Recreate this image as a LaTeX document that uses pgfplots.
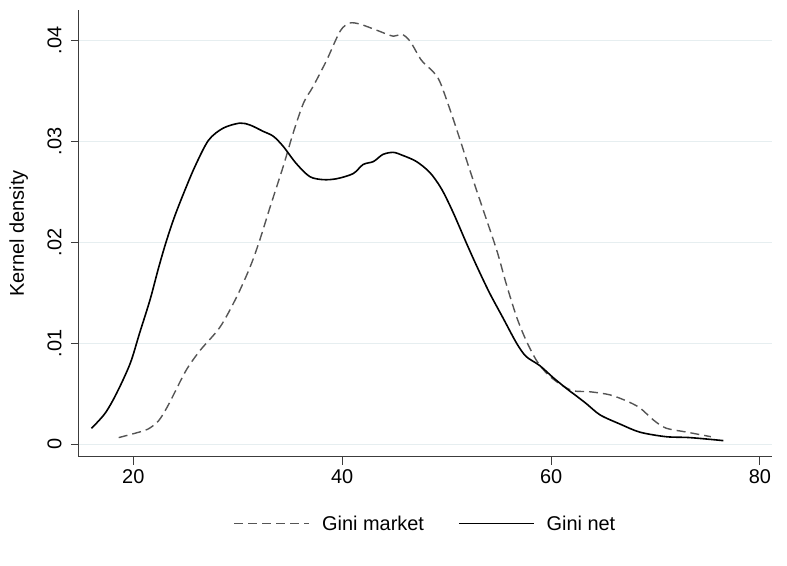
\documentclass[border=0pt]{standalone}
\usepackage{pgfplots}
\pgfplotsset{compat=1.18}
\usepackage{fontspec}
\setmainfont{Liberation Sans}
\definecolor{gridc}{RGB}{230,238,240}
\definecolor{mkt}{RGB}{85,85,85}
\definecolor{axc}{RGB}{60,60,60}
\begin{document}
\begin{tikzpicture}[x=1bp,y=1bp]
\begin{axis}[
  name=ax,
  scale only axis,
  width=693bp, height=447bp,
  xmin=14.8, xmax=81.15,
  ymin=-0.00126, ymax=0.0430,
  axis x line*=bottom, axis y line*=left,
  axis line style={axc, line width=1bp, -},
  xtick={20,40,60,80},
  ytick={0,0.01,0.02,0.03,0.04},
  yticklabels={0,.01,.02,.03,.04},
  scaled y ticks=false,
  tick align=outside,
  major tick length=8bp,
  tick style={axc, line width=1bp},
  ymajorgrids,
  grid style={gridc, line width=1.2bp},
  /pgf/number format/assume math mode=true,
  ticklabel style={font=\fontsize{20}{24}\selectfont, black},
  xticklabel style={yshift=-1bp},
  yticklabel style={rotate=90, anchor=south, yshift=6bp},
  ylabel={Kernel density},
  ylabel style={font=\fontsize{20}{24}\selectfont, at={(axis description cs:-0.087,0.5)}, anchor=center},
  legend style={at={(0.5,-0.122)}, anchor=north, draw=none, fill=none,
    font=\fontsize{20}{24}\selectfont, legend columns=2,
    /tikz/every odd column/.append style={column sep=10bp},
    /tikz/every even column/.append style={column sep=32bp}},
  legend image code/.code={\draw[#1] (0bp,0bp) -- (75bp,0bp);},
  legend cell align=left,
]
\addplot[mkt, line width=1.4bp, dash pattern=on 9bp off 5bp, smooth, tension=0.5] coordinates {
(18.6,0.00066) (20.2,0.0011) (21.4,0.0015) (22.4,0.0023) (23.2,0.0036)
(24.0,0.0052) (25.1,0.0074) (26.4,0.0093) (28.3,0.0116) (29.9,0.0146) (31.2,0.0176)
(32.1,0.0202) (33.1,0.0235) (34.35,0.0275) (35.3,0.0308) (36.3,0.0338)
(37.2,0.0354) (38.5,0.0380) (39.8,0.0409) (40.7,0.0417) (41.7,0.0416)
(43.3,0.0410) (44.9,0.0404) (45.7,0.0406) (46.5,0.0399) (47.6,0.0380)
(48.7,0.0369) (49.35,0.0359) (50.3,0.0332) (51.3,0.0301) (52.2,0.0272)
(53.5,0.0232) (54.8,0.0192) (55.7,0.0159) (56.7,0.0126) (57.6,0.0103)
(58.6,0.0083) (59.6,0.0070) (60.8,0.0060) (62.1,0.0053) (63.7,0.0052)
(65.6,0.0049) (67.2,0.0043) (68.5,0.0036) (69.8,0.0024) (71.0,0.0016)
(73.0,0.0012) (75.3,0.00075)
};
\addlegendentry{Gini market}
\addplot[black, line width=1.6bp, smooth, tension=0.5] coordinates {
(16.0,0.00158) (17.3,0.00307) (18.4,0.00505) (19.7,0.0080) (20.6,0.0110)
(21.6,0.0143) (22.4,0.0174) (23.1,0.0199) (23.9,0.0224) (24.8,0.0248)
(25.9,0.0275) (27.2,0.0301) (28.6,0.0313) (30.2,0.0318) (31.2,0.0316)
(32.4,0.0310) (33.4,0.0305) (34.35,0.0295) (35.6,0.0278) (36.9,0.0265)
(38.2,0.0262) (39.5,0.0263) (41.05,0.0268) (42.0,0.0277) (43.0,0.0280)
(43.9,0.0287) (44.9,0.0289) (45.8,0.0286) (47.1,0.0280) (48.4,0.0269)
(49.5,0.0253) (50.6,0.0230) (51.9,0.0199) (52.9,0.0176) (54.1,0.0150)
(55.4,0.0125) (56.7,0.0100) (57.6,0.0087) (58.9,0.0078) (60.2,0.0066)
(61.5,0.0055) (62.4,0.0048) (63.4,0.0040) (64.7,0.0029) (66.6,0.0020)
(68.5,0.0012) (71.0,0.00075) (73.3,0.00066) (76.5,0.00036)
};
\addlegendentry{Gini net}
\end{axis}
\useasboundingbox ([xshift=-79bp,yshift=-109bp]ax.south west) rectangle ([xshift=15bp,yshift=10bp]ax.north east);
\end{tikzpicture}
\end{document}
